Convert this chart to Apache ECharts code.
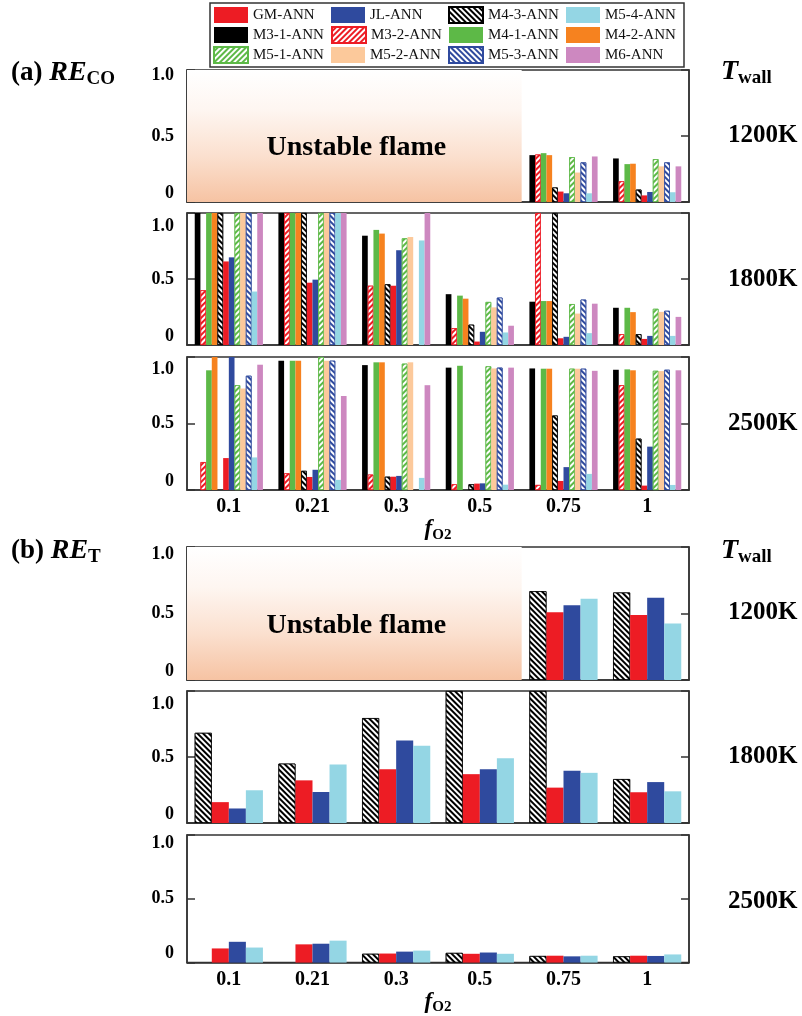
<!DOCTYPE html>
<html>
<head>
<meta charset="utf-8">
<script src="https://cdn.jsdelivr.net/npm/echarts@6/dist/echarts.min.js"></script>
<style>
  html, body { margin: 0; padding: 0; background: #ffffff; }
  #chart { width: 802px; height: 1016px; }
</style>
</head>
<body>
<div id="chart"></div>
<script>
// ---- categories and tick values ----
const CATEGORIES = ['0.1', '0.21', '0.3', '0.5', '0.75', '1'];
const Y_TICKS = [0, 0.5, 1.0];
const LEGEND_ORDER = ['GM-ANN', 'JL-ANN', 'M4-3-ANN', 'M5-4-ANN',
                      'M3-1-ANN', 'M3-2-ANN', 'M4-1-ANN', 'M4-2-ANN',
                      'M5-1-ANN', 'M5-2-ANN', 'M5-3-ANN', 'M6-ANN'];
const TEMPERATURES = ['1200K', '1800K', '2500K'];
// oxygen fractions at which the 1200 K flame is unstable
const UNSTABLE_CATEGORIES = ['0.1', '0.21', '0.3', '0.5'];

// ---- RE_CO, T_wall = 1200 K ----
const co1200_M31 = [null, null, null, null, 0.355, 0.33];
const co1200_M32 = [null, null, null, null, 0.36, 0.157];
const co1200_M41 = [null, null, null, null, 0.37, 0.287];
const co1200_M42 = [null, null, null, null, 0.355, 0.29];
const co1200_M43 = [null, null, null, null, 0.11, 0.094];
const co1200_GM  = [null, null, null, null, 0.079, 0.05];
const co1200_JL  = [null, null, null, null, 0.066, 0.076];
const co1200_M51 = [null, null, null, null, 0.34, 0.325];
const co1200_M52 = [null, null, null, null, 0.223, 0.27];
const co1200_M53 = [null, null, null, null, 0.30, 0.30];
const co1200_M54 = [null, null, null, null, 0.066, 0.074];
const co1200_M6  = [null, null, null, null, 0.345, 0.27];

// ---- RE_CO, T_wall = 1800 K ----
const co1800_M31 = [1.0, 1.0, 0.828, 0.385, 0.328, 0.282];
const co1800_M32 = [0.415, 1.0, 0.449, 0.128, 1.0, 0.082];
const co1800_M41 = [1.0, 1.0, 0.872, 0.374, 0.333, 0.282];
const co1800_M42 = [1.0, 1.0, 0.844, 0.351, 0.333, 0.249];
const co1800_M43 = [1.0, 1.0, 0.46, 0.154, 1.0, 0.082];
const co1800_GM  = [0.633, 0.472, 0.449, 0.026, 0.051, 0.046];
const co1800_JL  = [0.664, 0.495, 0.718, 0.10, 0.062, 0.069];
const co1800_M51 = [1.0, 1.0, 0.808, 0.326, 0.31, 0.274];
const co1800_M52 = [1.0, 1.0, 0.818, 0.285, 0.238, 0.251];
const co1800_M53 = [1.0, 1.0, null, 0.359, 0.344, 0.259];
const co1800_M54 = [0.405, 1.0, 0.792, 0.095, 0.09, 0.069];
const co1800_M6  = [1.0, 1.0, 1.0, 0.146, 0.313, 0.213];

// ---- RE_CO, T_wall = 2500 K ----
const co2500_M31 = [null, 0.972, 0.939, 0.92, 0.914, 0.904];
const co2500_M32 = [0.21, 0.126, 0.116, 0.043, 0.038, 0.788];
const co2500_M41 = [0.90, 0.972, 0.96, 0.934, 0.912, 0.907];
const co2500_M42 = [1.0, 0.972, 0.96, null, 0.912, 0.90];
const co2500_M43 = [null, 0.144, 0.10, 0.043, 0.56, 0.386];
const co2500_GM  = [0.24, 0.098, 0.10, 0.048, 0.068, 0.033];
const co2500_JL  = [1.0, 0.152, 0.106, 0.05, 0.172, 0.326];
const co2500_M51 = [0.788, 1.0, 0.95, 0.93, 0.912, 0.896];
const co2500_M52 = [0.763, 0.972, 0.96, 0.914, 0.912, 0.894];
const co2500_M53 = [0.859, 0.972, null, 0.92, 0.912, 0.904];
const co2500_M54 = [0.245, 0.076, 0.091, 0.04, 0.121, 0.038];
const co2500_M6  = [0.942, 0.707, 0.788, 0.92, 0.896, 0.90];

// ---- RE_T ----
const t1200_M43 = [null, null, null, null, 0.668, 0.658];
const t1200_GM  = [null, null, null, null, 0.51, 0.488];
const t1200_JL  = [null, null, null, null, 0.5625, 0.618];
const t1200_M54 = [null, null, null, null, 0.61, 0.425];

const t1800_M43 = [0.683, 0.45, 0.795, 1.0, 1.0, 0.333];
const t1800_GM  = [0.158, 0.323, 0.408, 0.37, 0.268, 0.233];
const t1800_JL  = [0.11, 0.235, 0.625, 0.408, 0.395, 0.31];
const t1800_M54 = [0.248, 0.443, 0.585, 0.49, 0.38, 0.24];

const t2500_M43 = [null, null, 0.069, 0.076, 0.052, 0.049];
const t2500_GM  = [0.111, 0.143, 0.071, 0.069, 0.054, 0.054];
const t2500_JL  = [0.163, 0.148, 0.086, 0.079, 0.049, 0.052];
const t2500_M54 = [0.118, 0.172, 0.094, 0.069, 0.054, 0.064];

// ---- model styling (bar order inside each group) ----
const MODELS = {
  M31: { name: 'M3-1-ANN', color: '#000000' },
  M32: { name: 'M3-2-ANN', color: '#ED1C24', hatch: 1 },
  M41: { name: 'M4-1-ANN', color: '#5DB947' },
  M42: { name: 'M4-2-ANN', color: '#F6821F' },
  M43: { name: 'M4-3-ANN', color: '#000000', hatch: -1 },
  GM:  { name: 'GM-ANN',   color: '#ED1C24' },
  JL:  { name: 'JL-ANN',   color: '#2F4A9E' },
  M51: { name: 'M5-1-ANN', color: '#5DB947', hatch: 1 },
  M52: { name: 'M5-2-ANN', color: '#FCC99B' },
  M53: { name: 'M5-3-ANN', color: '#2F4A9E', hatch: -1 },
  M54: { name: 'M5-4-ANN', color: '#94D6E4' },
  M6:  { name: 'M6-ANN',   color: '#CD88C0' }
};
const CO_KEYS = ['M31', 'M32', 'M41', 'M42', 'M43', 'GM', 'JL', 'M51', 'M52', 'M53', 'M54', 'M6'];
const T_KEYS = ['M43', 'GM', 'JL', 'M54'];

const CO_PANELS = [
  [co1200_M31, co1200_M32, co1200_M41, co1200_M42, co1200_M43, co1200_GM, co1200_JL, co1200_M51, co1200_M52, co1200_M53, co1200_M54, co1200_M6],
  [co1800_M31, co1800_M32, co1800_M41, co1800_M42, co1800_M43, co1800_GM, co1800_JL, co1800_M51, co1800_M52, co1800_M53, co1800_M54, co1800_M6],
  [co2500_M31, co2500_M32, co2500_M41, co2500_M42, co2500_M43, co2500_GM, co2500_JL, co2500_M51, co2500_M52, co2500_M53, co2500_M54, co2500_M6]
];
const T_PANELS = [
  [t1200_M43, t1200_GM, t1200_JL, t1200_M54],
  [t1800_M43, t1800_GM, t1800_JL, t1800_M54],
  [t2500_M43, t2500_GM, t2500_JL, t2500_M54]
];

// ---- layout ----
const SERIF = '"Liberation Serif", "Times New Roman", serif';
const PANEL_TOP = [70, 213, 357, 547, 691, 835];
const PANEL_H = [132, 132, 133, 133, 132, 134];
const GRID_LEFT = 187, GRID_RIGHT = 113;
const TOP_LABEL_SHIFT = [5, 13, 12, 7, 13, 8];
const FRAME = '#333333';

function hatchDecal(dir) {
  return {
    symbol: 'rect',
    symbolSize: 1,
    dashArrayX: [1, 0],
    dashArrayY: [2, 2],
    rotation: dir * -Math.PI / 4,
    color: '#ffffff'
  };
}

function itemStyleFor(key) {
  const m = MODELS[key];
  const s = { color: m.color };
  if (m.hatch) {
    s.decal = hatchDecal(m.hatch);
    s.borderColor = m.color;
    s.borderWidth = 0.8;
  }
  return s;
}

const grid = [], xAxis = [], yAxis = [], series = [];

for (let i = 0; i < 6; i++) {
  grid.push({
    left: GRID_LEFT, right: GRID_RIGHT, top: PANEL_TOP[i], height: PANEL_H[i],
    show: true, borderColor: FRAME, borderWidth: 1.5, backgroundColor: 'transparent'
  });
  const bottomPanel = (i === 2 || i === 5);
  xAxis.push({
    gridIndex: i, type: 'category', data: CATEGORIES,
    axisTick: { show: false },
    axisLine: { show: true, lineStyle: { color: FRAME, width: 1.5 } },
    axisLabel: {
      show: bottomPanel, margin: 7, color: '#000',
      fontFamily: SERIF, fontWeight: 'bold', fontSize: 20
    },
    name: bottomPanel ? '{f|f}{s|O2}' : '',
    nameLocation: 'middle', nameGap: 21,
    nameTextStyle: {
      rich: {
        f: { fontFamily: SERIF, fontStyle: 'italic', fontWeight: 'bold', fontSize: 23, color: '#000', lineHeight: 26 },
        s: { fontFamily: SERIF, fontWeight: 'bold', fontSize: 15, color: '#000', lineHeight: 12, verticalAlign: 'bottom' }
      }
    }
  });
  const shift = TOP_LABEL_SHIFT[i];
  const tickStyle = { show: true, inside: true, length: 8, lineStyle: { color: FRAME, width: 1.5 } };
  const labelFont = { fontFamily: SERIF, fontWeight: 'bold', fontSize: 18, color: '#000' };
  yAxis.push({
    gridIndex: i, type: 'value', position: 'left',
    min: Y_TICKS[0], max: Y_TICKS[2], interval: Y_TICKS[1] - Y_TICKS[0],
    splitLine: { show: false },
    axisLine: { show: true, lineStyle: { color: FRAME, width: 1.5 } },
    axisTick: tickStyle,
    axisLabel: {
      margin: 13,
      formatter: v => v === Y_TICKS[2] ? '{top|1.0}' : (v === Y_TICKS[0] ? '{bot|0}' : '{mid|0.5}'),
      rich: {
        top: Object.assign({ padding: [shift * 2, 0, 0, 0] }, labelFont),
        mid: Object.assign({}, labelFont),
        bot: Object.assign({ padding: [0, 0, 18, 0] }, labelFont)
      }
    }
  });
  yAxis.push({
    gridIndex: i, type: 'value', position: 'right',
    min: Y_TICKS[0], max: Y_TICKS[2], interval: Y_TICKS[1] - Y_TICKS[0],
    splitLine: { show: false },
    axisLine: { show: true, lineStyle: { color: FRAME, width: 1.5 } },
    axisTick: tickStyle,
    axisLabel: { show: false }
  });
}

// unstable-flame shading at 1200 K (panels 0 and 3), laid out on a hidden
// value axis whose unit is one category band
const SHADE_PANELS = [0, 3];
const shadeEnd = CATEGORIES.indexOf(UNSTABLE_CATEGORIES[UNSTABLE_CATEGORIES.length - 1]) + 1;
const shadeStart = CATEGORIES.indexOf(UNSTABLE_CATEGORIES[0]);
SHADE_PANELS.forEach(p => {
  xAxis.push({ gridIndex: p, type: 'value', min: 0, max: CATEGORIES.length, show: false });
  series.push({
    type: 'line', name: 'unstable', silent: true, z: 1,
    xAxisIndex: xAxis.length - 1, yAxisIndex: p * 2,
    data: [],
    markArea: {
      silent: true,
      itemStyle: {
        color: {
          type: 'linear', x: 0, y: 0, x2: 0, y2: 1,
          colorStops: [
            { offset: 0, color: '#ffffff' },
            { offset: 0.3, color: '#fef6f1' },
            { offset: 0.65, color: '#fbe0cf' },
            { offset: 1, color: '#f6c3a3' }
          ]
        }
      },
      label: {
        show: true, position: 'inside', offset: [2, 12],
        formatter: 'Unstable flame',
        fontFamily: SERIF, fontWeight: 'bold', fontSize: 28, color: '#000'
      },
      data: [[
        { xAxis: shadeStart, yAxis: Y_TICKS[0] },
        { xAxis: shadeEnd, yAxis: Y_TICKS[2] }
      ]]
    }
  });
});

function addPanelSeries(panelIndex, keys, values) {
  keys.forEach((key, k) => {
    series.push({
      type: 'bar', name: MODELS[key].name,
      xAxisIndex: panelIndex, yAxisIndex: panelIndex * 2,
      barGap: '0%', barCategoryGap: '18.5%',
      data: values[k],
      itemStyle: itemStyleFor(key),
      z: 3
    });
  });
}
CO_PANELS.forEach((vals, i) => addPanelSeries(i, CO_KEYS, vals));
T_PANELS.forEach((vals, i) => addPanelSeries(i + 3, T_KEYS, vals));

// ---- free text: panel titles and wall temperatures ----
const graphic = [];
function richText(x, y, text, rich, align) {
  graphic.push({
    type: 'text', x: x, y: y, silent: true, z: 100,
    style: { text: text, rich: rich, align: align || 'left', verticalAlign: 'middle', fill: '#000' }
  });
}
const titleRich = {
  p: { fontFamily: SERIF, fontWeight: 'bold', fontSize: 27, lineHeight: 32, fill: '#000' },
  r: { fontFamily: SERIF, fontWeight: 'bold', fontStyle: 'italic', fontSize: 28, lineHeight: 32, fill: '#000' },
  s: { fontFamily: SERIF, fontWeight: 'bold', fontSize: 19, lineHeight: 16, verticalAlign: 'bottom', fill: '#000' }
};
richText(11, 73, '{p|(a) }{r|RE}{s|CO}', titleRich);
richText(11, 551, '{p|(b) }{r|RE}{s|T}', titleRich);
richText(721, 72, '{r|T}{s|wall}', titleRich);
richText(721, 551, '{r|T}{s|wall}', titleRich);

const tempRich = { k: { fontFamily: SERIF, fontWeight: 'bold', fontSize: 25, fill: '#000' } };
[136, 280, 424, 613, 757, 902].forEach((y, i) => {
  richText(728, y, '{k|' + TEMPERATURES[i % 3] + '}', tempRich);
});

const chart = echarts.init(document.getElementById('chart'), null, { renderer: 'canvas' });
chart.setOption({
  animation: false,
  backgroundColor: '#ffffff',
  legend: {
    left: 210, top: 3, width: 470,
    orient: 'horizontal',
    data: LEGEND_ORDER,
    icon: 'rect',
    itemWidth: 34, itemHeight: 16, itemGap: 2,
    padding: [3, 3, 3, 3],
    borderColor: FRAME, borderWidth: 1.5,
    selectedMode: false,
    formatter: '{n|{name}}',
    textStyle: {
      rich: { n: { fontFamily: SERIF, fontSize: 15, color: '#111', width: 76, lineHeight: 17 } }
    }
  },
  grid: grid,
  xAxis: xAxis,
  yAxis: yAxis,
  series: series,
  graphic: graphic
});
</script>
</body>
</html>
